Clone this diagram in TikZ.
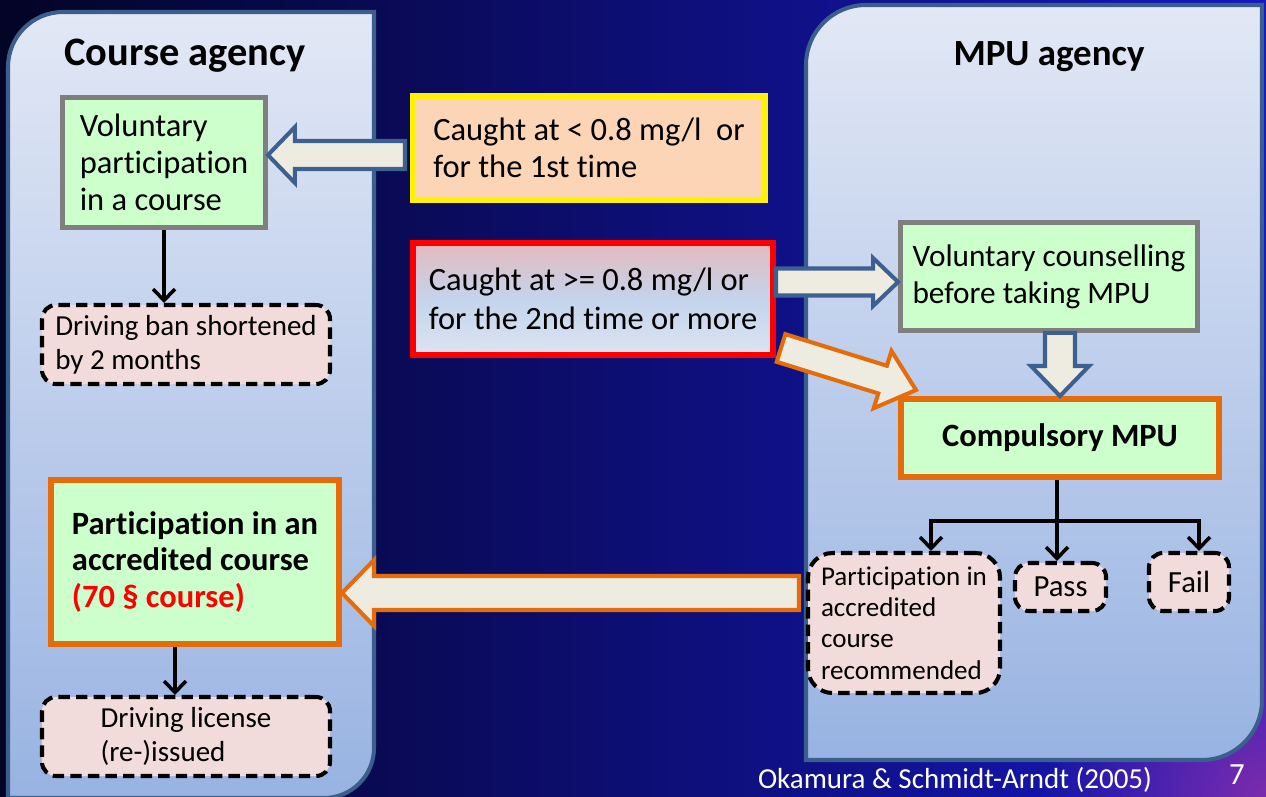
\documentclass[tikz,border=0pt]{standalone}
\usepackage{fontspec}
\setmainfont{Carlito}[Ligatures={TeX,NoCommon}]
\usetikzlibrary{arrows.meta,positioning,fadings,calc}

\definecolor{bgleft}{RGB}{4,4,38}
\definecolor{bgmid}{RGB}{10,16,128}
\definecolor{bgright}{RGB}{22,24,192}
\definecolor{bgpurple}{RGB}{124,44,172}
\definecolor{paneltop}{RGB}{226,232,245}
\definecolor{panelbot}{RGB}{152,179,226}
\definecolor{panelline}{RGB}{58,95,140}
\definecolor{mint}{RGB}{204,255,204}
\definecolor{boxgray}{RGB}{127,127,127}
\definecolor{mpuorange}{RGB}{228,108,10}
\definecolor{beige}{RGB}{238,235,224}
\definecolor{rose}{RGB}{242,220,219}
\definecolor{peach}{RGB}{251,213,181}
\definecolor{arrowblue}{RGB}{60,96,144}
\definecolor{redtop}{RGB}{228,186,190}
\definecolor{redmid}{RGB}{196,212,236}
\definecolor{redbot}{RGB}{220,228,242}

\tikzfading[name=cornerglow,inner color=transparent!0,outer color=transparent!100]

% block arrow: style, from, to, half body, half head, head length
\newcommand\fatarrow[6]{%
  \draw[#1] let \p1=#2, \p2=#3, \n1={atan2(\y2-\y1,\x2-\x1)}, \n2={veclen(\x2-\x1,\y2-\y1)} in
    [shift={(\p1)},rotate=\n1] (0cm,-#4) -- ({\n2-#6},-#4) -- ({\n2-#6},-#5) -- ({\n2-0cm},0cm)
    -- ({\n2-#6},#5) -- ({\n2-#6},#4) -- (0cm,#4) -- cycle;}

\begin{document}
\begin{tikzpicture}[font=\fontsize{18.5}{21}\selectfont,
 panel/.style={draw=panelline,line width=2.3pt,top color=paneltop,bottom color=panelbot},
 head/.style={font=\fontsize{23}{27}\selectfont\bfseries,anchor=base},
 tbox/.style={align=left,inner sep=0pt},
 gbox/.style={tbox,draw=boxgray,line width=2.8pt,fill=mint},
 obox/.style={tbox,draw=mpuorange,line width=3.4pt,fill=mint,font=\fontsize{18.5}{21}\selectfont\bfseries},
 dbox/.style={tbox,draw,line width=2.3pt,dash pattern=on 6.5pt off 3.5pt,rounded corners=8pt,fill=rose,font=\fontsize{16.5}{19.5}\selectfont},
 link/.style={line width=2pt,-{Straight Barb[length=6.5pt,width=12.5pt]}},
 bluearr/.style={draw=arrowblue,line width=2.3pt,fill=beige,line join=miter},
 orangearr/.style={draw=mpuorange,line width=2.3pt,fill=beige,line join=miter}]
\useasboundingbox (0,0) rectangle (25.32,15.92);
\shade[left color=bgleft,middle color=bgmid,right color=bgright] (0,0) rectangle (25.32,15.92);
\fill[bgpurple,path fading=cornerglow] (25.32,0) circle (4.5cm);

% the two agencies
\shadedraw[panel] (0.16,-0.04) -- (0.16,14.58) arc[start angle=180,end angle=90,radius=1.1] -- (7.48,15.68)
  -- (7.48,0.96) arc[start angle=0,end angle=-90,radius=1] -- cycle;
\shadedraw[panel] (16.12,0.72) -- (16.12,14.62) arc[start angle=180,end angle=90,radius=1.2] -- (25.24,15.82)
  -- (25.24,1.92) arc[start angle=0,end angle=-90,radius=1.2] -- cycle;
\node[head] (ctitle) at (3.7,14.6) {Course agency};
\node[head,font=\fontsize{21}{25}\selectfont\bfseries] (mtitle) at (20.98,14.6) {MPU agency};

% course agency side
\node[gbox,minimum width=4.06cm,minimum height=2.6cm] (vol) at (3.28,12.67) {Voluntary\\participation\\in a course};
\node[dbox,minimum width=5.76cm,minimum height=1.58cm] (ban) at (3.72,9.03) {Driving ban shortened\\by 2 months};
\node[obox,minimum width=5.76cm,minimum height=3.28cm] (acc) at (3.9,4.68) {Participation in an\\accredited course\\\textcolor{red}{(70 § course)}};
\node[dbox,minimum width=5.76cm,minimum height=1.58cm] (lic) at (3.72,1.19) {Driving license\\(re-)issued};

% offences
\node[tbox,draw=yellow,line width=3.4pt,fill=peach,minimum width=7.04cm,minimum height=2.08cm] (low) at (11.78,12.96) {Caught at < 0.8 mg/l~ or\\for the 1st time};
\node[tbox,draw=red,line width=3.4pt,top color=redtop,bottom color=redbot,middle color=redmid,minimum width=7.2cm,minimum height=2.24cm,font=\fontsize{18.5}{22.5}\selectfont] (high) at (11.86,9.94) {Caught at >= 0.8 mg/l or\\for the 2nd time or more};

% MPU agency side
\node[gbox,minimum width=5.94cm,minimum height=2.16cm,font=\fontsize{17.8}{21}\selectfont] (cns) at (20.98,10.39) {Voluntary counselling\\before taking MPU};
\node[obox,minimum width=6.36cm,minimum height=1.56cm] (comp) at (21.2,7.16) {Compulsory MPU};
\node[dbox,rounded corners=14pt,minimum width=3.84cm,minimum height=2.8cm,font=\fontsize{15.4}{17.8}\selectfont] (rec) at (18.08,3.46) {Participation in\\accredited\\course\\recommended};
\node[dbox,align=center,minimum width=1.82cm,minimum height=0.96cm,font=\fontsize{17.5}{20}\selectfont] (pass) at (21.21,4.18) {Pass};
\node[dbox,align=center,minimum width=1.6cm,minimum height=1.16cm,font=\fontsize{17.5}{20}\selectfont] (fail) at (23.78,4.28) {Fail};

% thin connectors
\draw[link] (vol.south) -- (vol.south |- ban.north);
\path ([xshift=-.4cm]acc.south) coordinate (accout);
\draw[link] (accout) -- (accout |- lic.north);
\path ([xshift=-.06cm]comp.south) ++(0,-.82) coordinate (fork);
\path ([xshift=.54cm]rec.north) coordinate (recin);
\path ([xshift=.2cm]fail.north) coordinate (failin);
\draw[line width=2pt] ([xshift=-.06cm]comp.south) -- (fork);
\draw[link] (fork) -| (recin);
\draw[link] (fork) -| (failin);
\draw[link] (fork) -- (fork |- pass.north);

% block arrows
\path (low.west) ++(-.1,-.14) coordinate (lowout);
\fatarrow{bluearr}{(lowout)}{(lowout -| vol.east)}{.28cm}{.56cm}{.54cm}
\path ([yshift=-.11cm]cns.west) coordinate (cnsin);
\fatarrow{bluearr}{(cnsin -| high.east)}{(cnsin)}{.27cm}{.48cm}{.5cm}
\fatarrow{orangearr}{([shift={(.1,.2)}]high.south east)}{([shift={(.36,.12)}]comp.north west)}{.29cm}{.6cm}{.7cm}
\fatarrow{bluearr}{(cns.south -| comp.north)}{(comp.north)}{.3cm}{.58cm}{.6cm}
\path ([yshift=-.62cm]acc.east) coordinate (accin);
\path (rec.west |- accin) ++(-.14,0) coordinate (recout);
\fatarrow{orangearr}{(recout)}{(accin)}{.34cm}{.66cm}{.64cm}

% footer
\node[text=white,font=\fontsize{16.5}{19}\selectfont,anchor=base] (cite) at (19.1,0.16) {Okamura \& Schmidt-Arndt (2005)};
\node[text=white,font=\fontsize{17.5}{20}\selectfont,anchor=base] (pageno) at (24.74,0.24) {7};
\end{tikzpicture}
\end{document}
